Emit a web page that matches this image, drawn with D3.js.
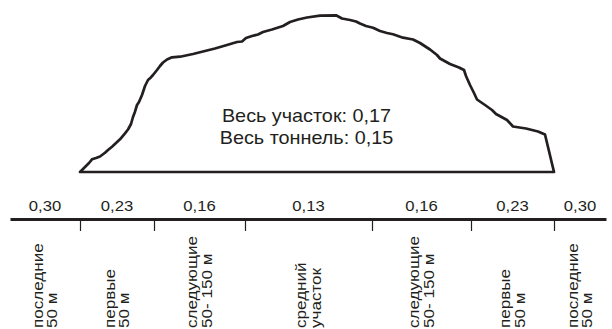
<!DOCTYPE html>
<html>
<head>
<meta charset="utf-8">
<script src="https://cdn.jsdelivr.net/npm/d3@7"></script>
<style>
  html, body { margin: 0; padding: 0; background: #fff; }
  svg { display: block; }
  text { font-family: "Liberation Sans", Arial, Helvetica, sans-serif; fill: #231f20; }
</style>
</head>
<body>
<svg id="chart" width="612" height="329"></svg>
<script>
// ---- data ----
// section boundaries along the route (relative distance units)
const axisExtent = [-70, 526];
const boundaries = [0, 74, 165, 292, 391, 474];
const sectionValues = ["0,30", "0,23", "0,16", "0,13", "0,16", "0,23", "0,30"];
const sectionLabels = [
  ["последние", "50 м"],
  ["первые", "50 м"],
  ["следующие", "50- 150 м"],
  ["средний", "участок"],
  ["следующие", "50- 150 м"],
  ["первые", "50 м"],
  ["последние", "50 м"]
];
const summaryLines = ["Весь участок: 0,17", "Весь тоннель: 0,15"];
// profile along the tunnel (distance, level)
const profileX = [0,5,9,12,16,20,25,28,32,36,40,45,48,51,53,55,57,59,62,65,68,70,73,77,80,83,87,92,100,113,125,135,147,157,162,166,172,178,183,192,203,210,218,227,240,256,262,270,276,280,286,293,300,307,313,323,333,340,350,357,360,370,379,384,386,390,394,397,405,412,416,427,433,446,458,465,474];
const profileY = [0,5,9,12.7,14,15.5,19.3,22,25.3,29,32.7,38.7,42.5,48,55,60.3,67,70,77,86,92,93.7,97,102,106,109.5,112.5,114.7,115.3,118,121,123.5,127,130,130.5,134,136,137.5,140,142.5,146,150,152.5,154.5,156.3,156.7,153.5,152,150.5,148.5,146,144.3,141,139,137.7,134.3,132.5,129,122.5,117,113.5,108,104.5,102,96,87,79,72.5,67,62,58,52,45.5,43.5,40.5,37.5,0];

// ---- chart ----
const ink = "#231f20";
const svg = d3.select("#chart");
const x = d3.scaleLinear().domain(axisExtent).range([10, 606]);
const y = d3.scaleLinear().domain([0, 160]).range([172, 12]);

const pts = profileX.map((d, i) => [d, profileY[i]]);
const line = d3.line().x(d => x(d[0])).y(d => y(d[1]));
svg.append("path")
  .attr("d", line(pts) + "Z")
  .attr("fill", "none")
  .attr("stroke", ink)
  .attr("stroke-width", 2.7)
  .attr("stroke-linejoin", "round")
  .attr("stroke-linecap", "round");

// summary text
const cx = 306.5;
summaryLines.forEach((t, i) => {
  svg.append("text")
    .attr("transform", `translate(${cx},${121.5 + i * 22.5}) scale(1.12,1)`)
    .attr("text-anchor", "middle")
    .attr("font-size", 17.7)
    .text(t);
});

// axis
const axisY = 219;
const axis = d3.axisBottom(x)
  .tickValues(boundaries)
  .tickFormat("")
  .tickSizeInner(12)
  .tickSizeOuter(0);
const g = svg.append("g").attr("transform", `translate(0,${axisY})`).call(axis);
g.select(".domain").attr("stroke", ink).attr("stroke-width", 3);
g.selectAll(".tick line").attr("stroke", ink).attr("stroke-width", 1.2);

// section midpoints
const edges = [axisExtent[0], ...boundaries, axisExtent[1]];
const mids = sectionValues.map((_, i) => (edges[i] + edges[i + 1]) / 2);

svg.selectAll("text.val").data(sectionValues).enter().append("text")
  .attr("class", "val")
  .attr("transform", (d, i) => `translate(${x(mids[i])},210.5) scale(1.15,1)`)
  .attr("text-anchor", "middle")
  .attr("font-size", 14.5)
  .text(d => d);

const lab = svg.selectAll("g.lab").data(sectionLabels).enter().append("g")
  .attr("class", "lab")
  .attr("transform", (d, i) => `translate(${x(mids[i])},328) rotate(-90) scale(1.22,1)`);
lab.each(function(d) {
  d3.select(this).selectAll("text").data(d).enter().append("text")
    .attr("x", 0)
    .attr("y", (t, j) => j === 0 ? -2.5 : 12)
    .attr("text-anchor", "start")
    .attr("font-size", 14)
    .text(t => t);
});
</script>
</body>
</html>
